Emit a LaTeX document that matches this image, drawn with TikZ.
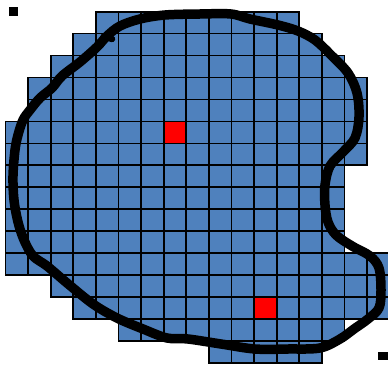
\documentclass[tikz,border=0pt]{standalone}
\usepackage{tikz}
\definecolor{cellblue}{RGB}{79,129,189}
\tikzset{
  cell/.style={fill=cellblue,draw=black,line width=1.7pt},
  hotcell/.style={fill=red,draw=black,line width=1.7pt},
  loop/.style={draw=black,line width=9.5pt,line cap=round,line join=round},
  marker/.style={fill=black,draw=none}
}
\begin{document}
\begin{tikzpicture}[x=1pt,y=-1pt]
\useasboundingbox (0,0) rectangle (388,366);
\begin{scope}
\clip (0,0) rectangle (388,366);
% rows: row/firstcol/lastcol
\foreach \r/\a/\b in {0/4/12,1/3/13,2/2/14,3/1/15,4/1/15,5/0/15,6/0/15,7/0/14,8/0/14,9/0/14,10/0/14,11/0/16,12/2/16,13/3/16,14/5/14,15/9/13}{
  \foreach \c in {\a,...,\b}{
    \path[cell] ({5.5+22.6*\c},{11.7+21.95*\r}) rectangle ++(22.6,21.95);
  }
}
\path[hotcell] ({5.5+22.6*7},{11.7+21.95*5}) rectangle ++(22.6,21.95);
\path[hotcell] ({5.5+22.6*11},{11.7+21.95*13}) rectangle ++(22.6,21.95);
\draw[loop] plot[smooth cycle,tension=0.55] coordinates {
(13,176) (15,150) (18,135) (23,120) (30,110) (40,98) (52,88) (62,76) (80,62) (97,47) (107,36) (120,26) (140,19) (165,15) (200,14) (231,14) (250,19) (278,25) (298,31) (315,40) (331,55) (348,73) (357,93) (359,117) (355,138) (343,152) (330,166) (325,185) (325,205) (328,222) (336,235) (352,246) (370,256) (379,268) (381,290) (379,308) (368,319) (354,329) (340,339) (320,348) (288,349) (255,349) (221,344) (188,339) (167,338) (143,329) (117,318) (93,304) (67,283) (47,266) (33,256) (24,240) (18,222) (14,200)};
\draw[loop,line width=6.5pt] (104,36) -- (112,39);
\path[marker] (9,7.5) rectangle (18,16);
\path[marker] (378,352.3) rectangle (388,359.5);
\end{scope}
\end{tikzpicture}
\end{document}
